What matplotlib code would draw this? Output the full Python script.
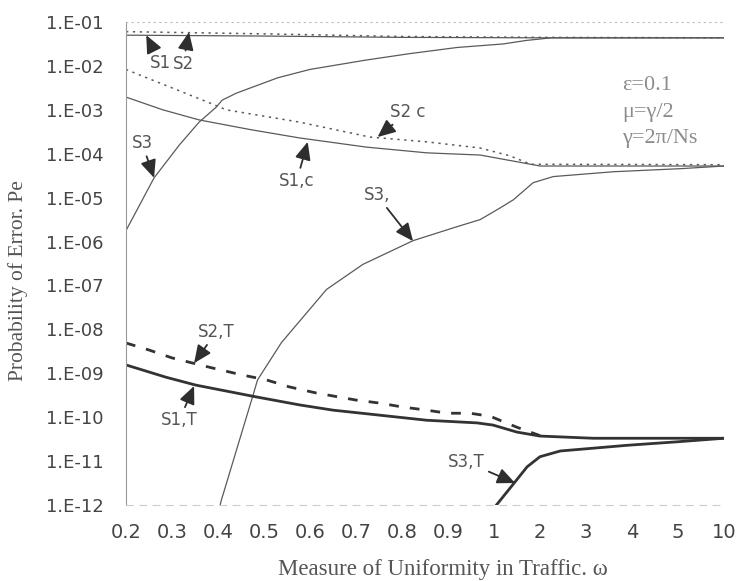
import matplotlib.pyplot as plt
import numpy as np

# omega categories on the x axis (evenly spaced, not to scale)
omega_labels = ['0.2', '0.3', '0.4', '0.5', '0.6', '0.7', '0.8', '0.9',
                '1', '2', '3', '4', '5', '10']

# curves: position along the category axis, log10(Pe)
s1_pos = [0, 3, 6, 9, 13]
s1_log = [-1.30, -1.32, -1.35, -1.36, -1.36]

s2_pos = [0, 3, 6, 9, 13]
s2_log = [-1.22, -1.27, -1.33, -1.35, -1.36]

s3_pos = [0, 0.61, 1.16, 1.59, 1.96, 2.09, 2.4, 3.3, 4.0, 5.2, 6.17, 7.2, 8.2, 8.7, 9.25, 13]
s3_log = [-5.75, -4.55, -3.80, -3.28, -2.94, -2.78, -2.62, -2.27, -2.08, -1.87,
          -1.72, -1.58, -1.50, -1.42, -1.36, -1.36]

s1c_pos = [0, 0.8, 1.59, 2.7, 3.77, 5.23, 6.54, 7.7, 8.64, 9.0, 13]
s1c_log = [-2.71, -3.0, -3.23, -3.45, -3.64, -3.85, -3.98, -4.03, -4.21, -4.28, -4.28]

s2c_pos = [0, 0.28, 1.0, 1.81, 2.18, 3.77, 5.3, 6.54, 7.7, 8.35, 8.8, 13]
s2c_log = [-2.08, -2.20, -2.50, -2.84, -3.0, -3.28, -3.62, -3.73, -3.87, -4.05, -4.24, -4.25]

s3b_pos = [2.0, 2.07, 2.75, 2.86, 3.38, 4.36, 5.15, 6.24, 7.2, 7.7, 8.14, 8.42, 8.85,
           9.29, 10.6, 12.06, 13]
s3b_log = [-12.2, -11.9, -9.54, -9.15, -8.3, -7.09, -6.52, -5.98, -5.66, -5.5, -5.23,
           -5.05, -4.66, -4.52, -4.41, -4.34, -4.28]

s2t_pos = [0, 0.5, 1.0, 1.88, 2.53, 3.05, 3.55, 4.14, 5.0, 5.52, 6.02, 6.54, 6.98,
           7.48, 7.92, 8.5, 9.0]
s2t_log = [-8.31, -8.47, -8.65, -8.88, -9.04, -9.15, -9.31, -9.45, -9.61, -9.68,
           -9.77, -9.84, -9.91, -9.91, -9.98, -10.23, -10.42]

s1t_pos = [0, 0.87, 1.52, 2.84, 3.77, 4.5, 5.3, 6.54, 7.63, 7.98, 8.5, 9.0, 10.16, 13]
s1t_log = [-8.81, -9.09, -9.27, -9.54, -9.72, -9.84, -9.93, -10.07, -10.13, -10.18,
           -10.34, -10.43, -10.48, -10.48]

s3t_pos = [7.95, 8.03, 8.43, 8.72, 9.0, 9.44, 10.9, 11.99, 13]
s3t_log = [-12.15, -12.03, -11.51, -11.13, -10.9, -10.77, -10.64, -10.56, -10.48]

# curve labels: text, text position, arrow tip (position, log10 Pe)
labels = [
    ('S1',   (0.74, -1.93),  (0.44, -1.30)),
    ('S2',   (1.24, -1.95),  (1.37, -1.23)),
    ('S3',   (0.35, -3.76),  (0.61, -4.55)),
    ('S1,c', (3.71, -4.62),  (3.95, -3.73)),
    ('S2 c', (6.13, -3.05),  (5.47, -3.62)),
    ('S3,',  (5.45, -4.94),  (6.24, -5.99)),
    ('S2,T', (1.96, -8.06),  (1.48, -8.77)),
    ('S1,T', (1.16, -10.07), (1.48, -9.29)),
    ('S3,T', (7.40, -11.02), (8.46, -11.50)),
]

notes = ['\u03b5=0.1', '\u03bc=\u03b3/2', '\u03b3=2\u03c0/Ns']

sans = 'DejaVu Sans'
serif = 'Liberation Serif'

fig = plt.figure(figsize=(7.36, 5.81), dpi=100)
ax = fig.add_axes([126 / 736, 1 - 505 / 581, 598 / 736, 483 / 581])

def pe(v):
    return 10.0 ** np.array(v)

thin = '#5a5a5a'
ax.plot(s1_pos, pe(s1_log), color=thin, lw=0.9)
ax.plot(s2_pos, pe(s2_log), color=thin, lw=1.1, ls=(0, (1.5, 3)))
ax.plot(s3_pos, pe(s3_log), color=thin, lw=0.9)
ax.plot(s1c_pos, pe(s1c_log), color=thin, lw=0.9)
ax.plot(s2c_pos, pe(s2c_log), color=thin, lw=1.1, ls=(0, (1.5, 3)))
ax.plot(s3b_pos, pe(s3b_log), color=thin, lw=0.9)
ax.plot(s2t_pos, pe(s2t_log), color='#333333', lw=2.0, ls=(0, (3.5, 4)))
ax.plot(s1t_pos, pe(s1t_log), color='#333333', lw=2.0)
ax.plot(s3t_pos, pe(s3t_log), color='#333333', lw=2.0)

for text, (tx, ty), (hx, hy) in labels:
    ax.annotate(text, xy=(hx, 10.0 ** hy), xytext=(tx, 10.0 ** ty),
                ha='center', va='center', fontsize=12, color='#555555',
                fontfamily=sans,
                arrowprops=dict(arrowstyle='-|>,head_length=0.9,head_width=0.4',
                                color='#2e2e2e', lw=1.3,
                                mutation_scale=12, shrinkA=1, shrinkB=0))

for i, note in enumerate(notes):
    fig.text(622 / 736, 1 - (85 + 27 * i) / 581, note, ha='left', va='center',
             fontsize=16, color='#8c8c8c', fontfamily=serif)

ax.set_yscale('log')
ax.set_ylim(1e-12, 1e-1)
ax.set_xlim(0, 13)
ax.set_xticks(range(len(omega_labels)))
ax.set_xticklabels(omega_labels, fontsize=14, fontfamily=sans, color='#444444')
decades = np.arange(-12, 0)
ax.set_yticks(10.0 ** decades)
ax.set_yticklabels(['1.E-%02d' % -d for d in decades], fontsize=13,
                   fontfamily=sans, color='#444444')
ax.minorticks_off()
ax.tick_params(axis='y', length=0, pad=16)
ax.tick_params(axis='x', length=0, pad=13)

ax.spines['right'].set_visible(False)
ax.spines['top'].set_color('#bbbbbb')
ax.spines['top'].set_linestyle((0, (1, 4)))
ax.spines['left'].set_color('#999999')
ax.spines['left'].set_linewidth(0.8)
ax.spines['bottom'].set_color('#cccccc')
ax.spines['bottom'].set_linestyle((0, (6, 6)))

fig.text(18 / 736, 1 - 281 / 581, 'Probability of Error. Pe', rotation=90,
         ha='center', va='center', fontsize=15.5, color='#555555',
         fontfamily=serif)
fig.text(443 / 736, 1 - 569 / 581, 'Measure of Uniformity in Traffic. \u03c9',
         ha='center', va='center', fontsize=16.5, color='#555555',
         fontfamily=serif)

fig.savefig('out.png', dpi=100)
